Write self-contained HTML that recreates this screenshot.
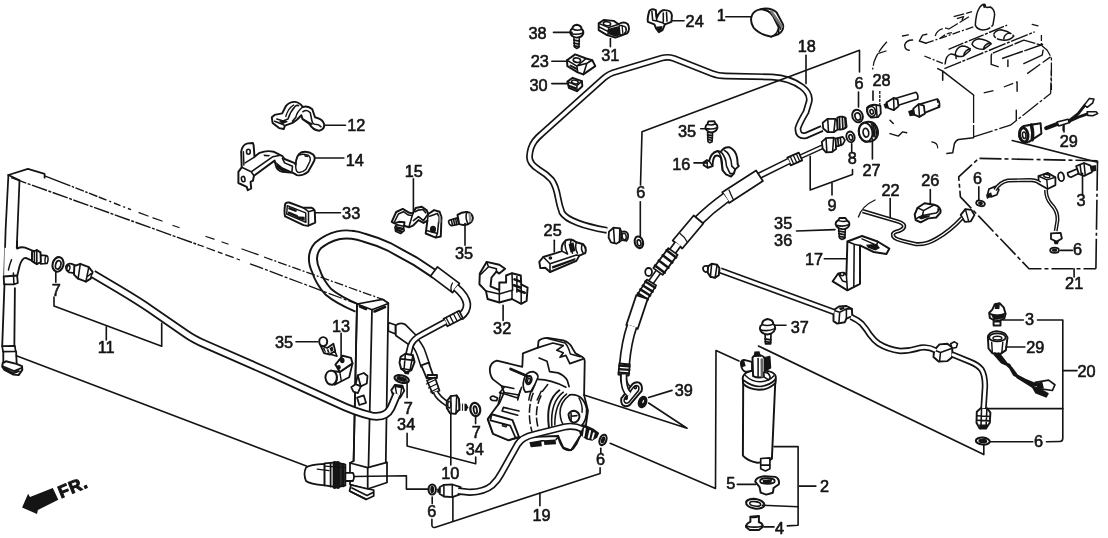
<!DOCTYPE html>
<html><head><meta charset="utf-8"><title>A/C Hoses - Pipes</title>
<style>html,body{margin:0;padding:0;background:#fff}svg{display:block;filter:grayscale(1) blur(0.4px)}</style></head>
<body><svg width="1108" height="538" viewBox="0 0 1108 538" fill="none" stroke="#141414" stroke-linecap="round" stroke-linejoin="round" font-family="'Liberation Sans', sans-serif">
<rect x="0" y="0" width="1108" height="538" fill="#fff" stroke="none"/>
<g>
<path d="M357.0 308.0Q338.0 300.0 328.3 291.8Q319.5 282.0 316.0 271.0Q309.0 256.0 318.0 245.5Q327.0 238.0 338.0 235.3Q345.0 233.8 352.0 234.8Q358.0 235.5 364.0 237.6Q378.0 241.5 389.4 247.0L400.0 252.8L415.0 261.1L435.0 274.3" stroke-width="9.95" stroke-linecap="butt"/>
<path d="M357.0 308.0Q338.0 300.0 328.3 291.8Q319.5 282.0 316.0 271.0Q309.0 256.0 318.0 245.5Q327.0 238.0 338.0 235.3Q345.0 233.8 352.0 234.8Q358.0 235.5 364.0 237.6Q378.0 241.5 389.4 247.0L400.0 252.8L415.0 261.1L435.0 274.3" stroke-width="6.05" stroke="#fff" stroke-linecap="butt"/>
<path d="M430.6 276.1 L452.6 292.6 L459.4 283.4 L437.4 266.9Z" fill="#fff" stroke-width="1.76"/>
<path d="M452.5 283.0Q450.0 287.0 451.5 292.0" stroke-width="1.3"/>
<path d="M456.0 287.5Q466.0 296.0 467.0 304.0Q467.5 311.0 460.0 317.0" stroke-width="8.59" stroke-linecap="butt"/>
<path d="M456.0 287.5Q466.0 296.0 467.0 304.0Q467.5 311.0 460.0 317.0" stroke-width="5.21" stroke="#fff" stroke-linecap="butt"/>
<path d="M459.1 310.7 L443.6 318.7 L447.4 326.3 L462.9 318.3Z" fill="#fff" stroke-width="1.76"/>
<path d="M457.0 311.7L461.0 319.3M453.4 313.7L457.3 321.2M449.7 315.6L453.6 323.1M446.0 317.5L450.0 325.1" stroke-width="1.3"/>
<path d="M411.0 338.0Q419.0 346.0 421.5 354.0L425.5 366.0" stroke-width="10.36" stroke-linecap="butt"/>
<path d="M411.0 338.0Q419.0 346.0 421.5 354.0L425.5 366.0" stroke-width="7.24" stroke="#fff" stroke-linecap="butt"/>
<path d="M388.3 322.5L395.5 325.0L395.5 334.0L388.3 331.0Z" fill="#fff" stroke-width="1.76"/>
<path d="M395.8 325.4Q400.0 322.0 405.4 324.6L415.8 335.0Q417.0 341.0 409.9 345.4L395.8 335.5Z" fill="#fff" stroke-width="1.76"/>
<path d="M421.3 365.4 L426.7 378.3 L433.3 375.7 L428.7 362.6Z" fill="#fff" stroke-width="1.76"/>
<path d="M427.5 378.0 L437.0 378.0 L437.0 375.0 L427.5 375.0Z" fill="#fff" stroke-width="1.76"/>
<path d="M427.0 380.5 L432.5 393.3 L439.5 390.7 L435.0 377.5Z" fill="#fff" stroke-width="1.76"/>
<path d="M426.5 384.0L434.5 380.0M428.5 388.0L436.5 384.0M430.5 392.0L438.5 388.0" stroke-width="1.3"/>
<path d="M435.5 392.0Q438.0 398.0 447.5 404.0" stroke-width="5.96" stroke-linecap="butt"/>
<path d="M435.5 392.0Q438.0 398.0 447.5 404.0" stroke-width="2.84" stroke="#fff" stroke-linecap="butt"/>
<path d="M445.6 321.8L422.0 334.5Q413.0 339.0 410.5 346.0L408.3 355.0" stroke-width="6.79" stroke-linecap="butt"/>
<path d="M445.6 321.8L422.0 334.5Q413.0 339.0 410.5 346.0L408.3 355.0" stroke-width="3.41" stroke="#fff" stroke-linecap="butt"/>
<path d="M822.5 146.8L800.0 157.0" stroke-width="4.93" stroke-linecap="butt"/>
<path d="M822.5 146.8L800.0 157.0" stroke-width="2.07" stroke="#fff" stroke-linecap="butt"/>
<path d="M798.8 152.6 L787.3 157.6 L790.7 165.4 L802.2 160.4Z" fill="#fff" stroke-width="1.76"/>
<path d="M796.2 153.6L799.8 161.4M793.2 155.0L796.8 162.8M790.2 156.4L793.8 164.2" stroke-width="1.3"/>
<path d="M789.0 161.0L759.5 175.6" stroke-width="6.96" stroke-linecap="butt"/>
<path d="M789.0 161.0L759.5 175.6" stroke-width="3.84" stroke="#fff" stroke-linecap="butt"/>
<path d="M756.1 170.5 L722.3 192.3 L729.1 202.9 L762.9 181.1Z" fill="#fff" stroke-width="1.76"/>
<path d="M729.0 190.0Q731.0 195.0 733.5 200.0" stroke-width="1.3"/>
<path d="M726.0 197.5Q710.0 209.0 697.0 222.0" stroke-width="11.39" stroke-linecap="butt"/>
<path d="M726.0 197.5Q710.0 209.0 697.0 222.0" stroke-width="8.01" stroke="#fff" stroke-linecap="butt"/>
<path d="M693.7 215.5 L672.7 240.5 L682.3 248.5 L703.3 223.5Z" fill="#fff" stroke-width="1.76"/>
<path d="M680.0 233.5Q685.0 237.0 687.5 242.5" stroke-width="1.3"/>
<path d="M678.0 244.0L671.0 253.5" stroke-width="8.79" stroke-linecap="butt"/>
<path d="M678.0 244.0L671.0 253.5" stroke-width="5.41" stroke="#fff" stroke-linecap="butt"/>
<path d="M660.0 269.5L649.0 285.0" stroke-width="6.84" stroke-linecap="butt"/>
<path d="M660.0 269.5L649.0 285.0" stroke-width="3.85" stroke="#fff" stroke-linecap="butt"/>
<ellipse cx="648.6" cy="272.0" rx="3.4" ry="4.0" fill="#fff" stroke-width="1.76"/>
<path d="M668.4 248.1 L653.4 268.1 L662.6 274.9 L677.6 254.9Z" fill="#fff" stroke-width="1.76"/>
<path d="M666.5 250.2L676.1 257.4M662.7 255.3L672.3 262.5M658.8 260.5L668.4 267.7M655.0 265.6L664.6 272.8" stroke-width="2.47"/>
<path d="M646.8 279.6 L636.8 295.6 L646.2 301.4 L656.2 285.4Z" fill="#fff" stroke-width="1.76"/>
<path d="M645.3 281.5L655.1 287.7M642.9 285.5L652.6 291.6M640.4 289.4L650.1 295.5M637.9 293.3L647.7 299.5" stroke-width="2.47"/>
<path d="M636.3 295.1 L626.3 325.1 L637.7 328.9 L647.7 298.9Z" fill="#fff" stroke-width="1.76"/>
<path d="M632.0 326.0Q626.5 342.0 624.5 364.0" stroke-width="11.39" stroke-linecap="butt"/>
<path d="M632.0 326.0Q626.5 342.0 624.5 364.0" stroke-width="8.01" stroke="#fff" stroke-linecap="butt"/>
<path d="M619.4 363.5 L618.4 374.5 L628.8 375.5 L629.8 364.5Z" fill="#fff" stroke-width="1.76"/>
<path d="M619.2 365.6L629.6 366.4M618.9 369.1L629.4 369.9M618.7 372.6L629.1 373.4" stroke-width="2.08"/>
<path d="M623.5 375.0Q623.0 384.0 628.0 388.5" stroke-width="7.36" stroke-linecap="butt"/>
<path d="M623.5 375.0Q623.0 384.0 628.0 388.5" stroke-width="4.24" stroke="#fff" stroke-linecap="butt"/>
<path d="M8.4 175.0L27.9 168.9L44.6 173.9L44.6 177.7" stroke-width="1.76"/>
<path d="M8.4 175.0L19.5 180.4" stroke-width="1.76"/>
<path d="M8.4 175.0L5.6 230.0L4.2 276.0" stroke-width="1.76"/>
<path d="M19.5 180.4L16.7 249.0" stroke-width="1.76"/>
<path d="M44.6 175.8L62.0 182.6" stroke-width="1.43"/>
<path d="M62.0 182.6L100.0 197.5" stroke-width="1.43" stroke-dasharray="9 1.5 2.5 1.5" stroke-linecap="butt"/>
<path d="M100.0 197.5L131.0 209.7" stroke-width="1.43" stroke-dasharray="7 3 2 3" stroke-linecap="butt"/>
<path d="M139.0 212.7L148.0 216.0M153.0 217.8L162.0 221.0" stroke-width="1.3"/>
<path d="M173.0 225.5L179.0 227.5" stroke-width="1.3"/>
<path d="M206.0 236.5L214.0 239.2" stroke-width="1.3"/>
<path d="M222.0 242.0L228.0 244.0" stroke-width="1.3"/>
<path d="M242.0 249.0L258.0 254.7" stroke-width="1.3"/>
<path d="M264.0 257.0L384.5 300.0" stroke-width="1.3" stroke-dasharray="9 2 2 2" stroke-linecap="butt"/>
<path d="M11.2 177.7L199.0 245.0" stroke-width="1.43" stroke-dasharray="16 1.5 3 1.5" stroke-linecap="butt"/>
<path d="M199.0 245.0L240.0 260.0" stroke-width="1.3" stroke-dasharray="5 3 9 3" stroke-linecap="butt"/>
<path d="M250.0 263.8L357.0 304.0" stroke-width="1.3" stroke-dasharray="14 2 3 2" stroke-linecap="butt"/>
<path d="M16.4 355.8L307.0 466.3" stroke-width="1.56"/>
<path d="M357.0 304.0L382.4 299.3L388.3 303.0L385.8 461.5L387.0 463.0L387.0 482.5L367.7 489.0L350.0 484.5L350.0 463.0L353.6 461.0Z" fill="#fff" stroke-width="1.76"/>
<path d="M357.0 304.0L372.0 309.7L388.3 303.5" stroke-width="1.76"/>
<path d="M372.0 309.7L368.5 466.0" stroke-width="1.76"/>
<path d="M357.0 304.0L353.6 461.0" stroke-width="1.76"/>
<path d="M350.0 463.0L367.7 467.6L387.0 462.4" stroke-width="1.76"/>
<path d="M367.7 467.6L367.7 489.0" stroke-width="1.76"/>
<path d="M360.0 306.5L366.0 309.0M374.5 311.5L385.0 307.0" stroke-width="2.6"/>
<path d="M351.0 485.0L349.5 491.0L366.0 499.5L373.7 496.0L373.7 490.0L367.7 489.0Z" fill="#fff" stroke-width="1.76"/>
<path d="M352.0 488.0L367.0 495.5L373.0 492.5M350.5 491.5L366.0 499.0" stroke-width="1.76"/>
<path d="M357.8 375.3L363.8 373.0L367.5 376.0L366.8 383.5L360.8 386.4L355.6 384.2Z" fill="#fff" stroke-width="1.76"/>
<path d="M351.2 387.2L355.6 384.2L360.8 386.4L357.8 393.1L353.4 391.6Z" fill="#fff" stroke-width="1.76"/>
<path d="M357.8 375.3L360.8 386.4" stroke-width="1.76"/>
<path d="M357.1 397.6L363.8 395.4L366.0 402.8L359.3 405.0Z" fill="#fff" stroke-width="1.76"/>
<path d="M324.6 463.9Q309.7 464.6 306.0 467.6Q303.0 473.5 306.0 481.0Q309.7 483.9 324.6 485.4Z" fill="#fff" stroke-width="1.76"/>
<path d="M324.6 463.4L336.5 462.4L345.4 464.6L345.4 485.4L336.5 487.2L324.6 485.4Z" fill="#fff" stroke-width="1.76"/>
<path d="M330.6 463.1L330.6 486.5M341.0 463.9L341.0 486.5" stroke-width="1.76"/>
<path d="M334.7 463.1L334.7 486.9M338.0 463.1L338.0 486.9" stroke-width="4.16"/>
<path d="M343.2 464.6L343.2 485.7" stroke-width="3.12"/>
<path d="M324.6 466.1L345.4 467.6M317.2 469.1L329.1 470.6" stroke-width="1.3"/>
<path d="M345.4 472.8L352.9 472.8Q355.1 476.5 352.9 481.0L345.4 481.0Z" fill="#fff" stroke-width="1.76"/>
<path d="M4.6 247.7L17.1 248.6Q21.4 246.4 25.1 247.7L33.1 250.8L33.1 261.2L25.7 257.9Q21.9 257.9 19.5 266.2L17.1 276.5L4.1 276.5Z" fill="#fff" stroke="none"/>
<path d="M17.1 241.2L17.1 248.6Q21.4 246.4 25.1 247.7L33.1 250.8M33.1 261.2L25.7 257.9Q21.9 257.9 19.5 266.2L17.1 276.5" stroke-width="1.82"/>
<path d="M8.4 270.0Q9.3 265.3 11.5 259.7" stroke-width="1.43"/>
<path d="M3.7 276.5L17.1 275.5L17.8 283.0L13.9 284.3L4.1 284.3Z" fill="#fff" stroke-width="1.82"/>
<path d="M13.4 273.1L13.9 284.3" stroke-width="1.56"/>
<path d="M40.0 255.1L46.5 255.7Q48.3 259.4 46.8 263.5L40.5 263.8Z" fill="#fff" stroke-width="1.69"/>
<ellipse cx="46.5" cy="259.7" rx="1.5" ry="3.7" fill="#fff" stroke-width="1.43" transform="rotate(5 46.5 259.7)"/>
<path d="M32.0 251.9L36.8 250.1L40.5 252.3L40.9 262.0L36.8 264.2L32.0 261.2Z" fill="#fff" stroke-width="1.95"/>
<path d="M36.8 250.1L36.8 264.2M34.4 251.0L34.4 262.7" stroke-width="1.56"/>
<ellipse cx="58.0" cy="264.4" rx="5.4" ry="7.4" fill="#fff" stroke-width="2.08" transform="rotate(15 58.0 264.4)"/>
<ellipse cx="58.2" cy="264.9" rx="2.6" ry="4.3" fill="#fff" stroke-width="1.69" transform="rotate(15 58.2 264.9)"/>
<path d="M66.0 266.2Q67.8 263.1 71.6 263.8L75.3 265.3L74.3 273.1L69.1 272.4Q65.4 270.5 66.0 266.2Z" fill="#fff" stroke-width="1.82"/>
<ellipse cx="68.4" cy="268.1" rx="1.5" ry="2.6" fill="#fff" stroke-width="1.43" transform="rotate(10 68.4 268.1)"/>
<path d="M74.3 266.2L80.3 263.8L88.8 267.2L92.6 271.8L90.7 278.7L85.9 281.7L78.1 278.7L74.0 274.6Z" fill="#fff" stroke-width="1.95"/>
<path d="M80.3 263.8L78.1 278.7M88.8 267.2L85.9 281.7M91.1 273.7L87.4 276.5" stroke-width="1.56"/>
<path d="M4.5 283.6L2.2 346.1M14.9 288.1L14.3 350.3" stroke-width="1.82"/>
<path d="M2.2 346.1L14.9 345.8L15.6 351.3L3.0 351.7Z" fill="#fff" stroke-width="1.69"/>
<path d="M3.3 351.7L3.3 362.5M16.1 351.3L16.7 363.9" stroke-width="1.82"/>
<path d="M2.7 363.2L5.9 361.3L16.4 363.9L22.0 366.2L22.3 369.9L18.6 375.1L13.4 374.6L4.5 369.9L2.2 366.6Z" fill="#fff" stroke-width="1.95"/>
<path d="M2.7 366.2L14.1 371.1L22.0 367.7M4.5 368.7L13.7 373.2L19.0 371.1" stroke-width="1.69"/>
<path d="M22.1 507.6L28.1 493.7L30.0 497.0L52.8 488.1L58.3 499.7L37.9 510.0L37.0 514.1Z" fill="#141414" stroke="none"/>
<path d="M271.8 117.3L274.6 114.9L282.2 113.4L285.8 106.2Q289.1 101.7 295.2 101.9Q300.3 102.8 302.7 107.0Q308.1 105.3 312.3 109.3L315.0 117.3Q322.6 119.0 324.2 124.2Q324.8 129.6 319.2 130.7Q312.5 129.8 309.7 124.2L302.5 119.0L301.4 115.3L296.9 119.8L292.5 122.9L284.9 125.7L283.8 129.0L279.1 128.1L272.6 122.9Z" fill="#fff" stroke-width="1.95"/>
<path d="M274.6 121.2L282.4 124.2L284.6 125.7M282.4 124.2L283.3 120.9L276.8 119.0M283.3 120.9L288.0 119.0Q290.2 111.7 295.2 106.2Q296.9 105.0 298.6 105.6" stroke-width="1.56"/>
<path d="M285.8 116.4Q288.0 108.4 293.6 105.0" stroke-width="1.43"/>
<path d="M302.7 107.0Q296.9 111.7 295.8 117.3L292.5 121.2" stroke-width="1.56"/>
<path d="M303.0 111.7Q306.9 108.9 310.3 112.8L312.0 121.2Q312.5 124.0 314.8 124.2Q319.2 124.2 320.9 126.8" stroke-width="1.56"/>
<path d="M302.5 119.0L312.0 124.2" stroke-width="1.56"/>
<path d="M279.1 121.2L284.6 119.8L288.0 121.8L282.4 124.2Z" fill="#141414" stroke="none"/>
<path d="M238.4 171.8L241.7 167.3L241.2 151.7Q242.3 144.5 247.8 143.4L252.9 143.0L253.6 145.0L254.5 156.7L259.6 152.8Q266.8 150.1 273.5 151.7L282.4 156.2L284.6 159.0L294.1 162.9L295.8 164.6Q295.8 155.1 301.4 152.3Q308.1 150.6 313.1 154.5Q316.4 157.9 313.1 162.9L308.1 171.8Q302.5 176.3 296.9 175.1L293.0 172.9L282.4 171.8Q276.8 170.7 275.7 165.1L274.6 160.6L254.0 175.7L252.9 180.7L250.6 181.8L251.2 188.5L247.8 190.2L246.7 186.9L238.4 183.0Z" fill="#fff" stroke-width="1.95"/>
<path d="M241.7 167.3L251.2 171.8L254.0 175.7M251.2 171.8L272.9 156.7L279.1 155.6" stroke-width="1.56"/>
<path d="M245.1 162.9L254.0 157.3L254.5 156.7" stroke-width="1.43"/>
<path d="M243.4 151.7L243.9 165.1" stroke-width="1.43"/>
<ellipse cx="248.4" cy="151.7" rx="1.9" ry="2.5" fill="#fff" stroke-width="1.56"/>
<ellipse cx="243.2" cy="179.1" rx="1.8" ry="2.7" fill="#fff" stroke-width="1.56" transform="rotate(-10 243.2 179.1)"/>
<path d="M263.5 154.5L270.1 154.9L269.0 156.4L264.0 156.2Z" fill="#141414" stroke="none"/>
<path d="M275.7 161.8L282.4 167.3L290.2 170.7L292.5 172.4L282.4 171.2L277.4 168.5Z" fill="#141414" stroke="none"/>
<path d="M282.4 158.4L284.6 162.9L292.5 166.2L291.9 171.8" stroke-width="1.56"/>
<path d="M299.1 155.1Q302.5 153.4 308.1 155.1Q311.4 157.3 309.7 161.8L305.8 169.6Q302.5 172.9 298.0 172.4Q295.2 170.7 295.8 164.6" stroke-width="1.43"/>
<path d="M304.2 155.1L308.6 155.6L308.1 157.3L304.7 156.7Z" fill="#141414" stroke="none"/>
<path d="M285.1 204.5Q285.6 202.0 289.2 202.5L303.5 207.8L311.8 207.8Q314.6 209.0 314.8 211.7L315.2 222.6L307.9 225.9L303.5 225.1L285.1 216.4Q283.9 212.3 285.1 204.5Z" fill="#fff" stroke-width="1.95"/>
<path d="M308.5 211.7L308.5 225.5M303.5 207.8L308.5 211.7L314.6 210.1" stroke-width="1.56"/>
<path d="M287.3 205.6L305.7 212.9L305.9 222.3L286.7 214.0Z" stroke-width="1.43"/>
<path d="M289.5 208.4L295.6 210.6M289.0 212.9L296.8 216.2" stroke-width="2.6"/>
<path d="M296.2 216.2L304.6 216.8L304.8 220.7L296.8 218.4Z" fill="#141414" stroke="none"/>
<path d="M391.7 221.8L396.2 212.0L402.8 208.9L409.3 212.8L412.9 213.4L415.7 208.0L421.8 206.7L426.8 210.4L428.3 214.0L434.1 210.1L439.6 211.7L441.5 217.3L440.8 236.5L435.7 237.6L425.7 233.5L427.4 220.6L423.5 222.9L418.5 220.1L412.9 225.7L409.0 227.3L404.0 225.7L404.5 222.3L398.9 221.8L394.5 223.4Z" fill="#fff" stroke-width="1.95"/>
<path d="M394.5 221.8L398.4 214.0L403.4 211.7L408.4 215.1L411.8 215.6M412.9 213.4L411.2 219.0L409.0 226.8" stroke-width="1.56"/>
<path d="M415.1 211.7L418.5 210.1L422.9 209.5L425.7 212.8M413.4 220.6L418.5 216.7L423.5 220.6L427.9 214.2" stroke-width="1.69"/>
<path d="M428.3 214.0L427.4 220.6M429.6 216.2L437.4 213.4L439.1 217.3L437.4 233.5L435.7 237.4M437.4 233.5L427.4 230.7" stroke-width="1.56"/>
<path d="M439.6 217.3L439.9 221.8" stroke-width="2.86" stroke="#888"/>
<ellipse cx="433.0" cy="229.3" rx="2.2" ry="2.7" fill="#141414" stroke-width="1.76"/>
<path d="M396.2 224.6L403.4 226.2L404.2 230.7L400.6 233.5L395.6 231.2L395.0 227.3Z" fill="#fff" stroke-width="1.69"/>
<path d="M396.7 227.3L402.8 229.0M396.2 229.6L401.7 231.6" stroke-width="2.34"/>
<path d="M448.6 221.2Q449.1 219.8 450.8 219.8L457.5 217.9L458.6 224.2L451.9 225.7Q448.8 225.1 448.6 221.2Z" fill="#fff" stroke-width="1.69"/>
<path d="M451.4 220.1L452.5 225.1M453.6 219.5L454.7 224.9M455.8 219.0L456.6 224.6" stroke-width="1.56"/>
<path d="M457.5 214.9Q461.9 211.7 467.0 212.0Q472.0 212.8 472.9 217.9Q472.5 222.3 468.1 224.2Q463.1 225.7 459.2 224.2Z" fill="#fff" stroke-width="1.95"/>
<path d="M467.0 212.0Q464.7 217.3 468.1 224.2" stroke-width="1.56"/>
<path d="M469.8 214.5L470.3 220.6" stroke-width="2.6" stroke="#999"/>
<path d="M573.9 36.8L579.4 36.8L578.9 47.2L576.6 48.5L574.4 46.8Z" fill="#fff" stroke-width="1.56"/>
<path d="M573.9 40.1L579.4 41.1M573.9 43.1L579.2 44.1M574.2 45.8L578.9 46.7" stroke-width="1.69"/>
<path d="M570.2 32.6Q570.2 29.7 572.2 28.7Q572.7 25.1 576.9 24.7Q581.6 25.4 581.6 29.2Q583.6 30.4 583.3 33.4Q581.9 37.6 576.6 37.6Q571.0 36.8 570.2 32.6Z" fill="#fff" stroke-width="1.95"/>
<path d="M572.2 28.7Q576.9 31.4 581.6 29.2M571.0 33.4Q576.9 35.4 582.8 33.1" stroke-width="1.56"/>
<path d="M566.9 60.2L575.2 54.4L586.1 58.5L592.3 60.2L595.3 66.1L583.3 74.4L577.7 72.3L567.4 66.1Z" fill="#fff" stroke-width="1.95"/>
<path d="M566.9 60.2L576.9 66.1L586.1 58.5M576.9 66.1L577.7 72.3M576.9 66.1L586.9 63.2L592.3 60.2M586.9 63.2L583.3 74.4" stroke-width="1.56"/>
<ellipse cx="576.9" cy="60.2" rx="3.7" ry="2.2" fill="#fff" stroke-width="1.69" transform="rotate(10 576.9 60.2)"/>
<path d="M570.2 64.4L576.9 67.7L576.9 70.3L569.4 66.1Z" fill="#141414" stroke="none"/>
<path d="M567.4 81.6L572.7 77.8L581.9 81.1L582.3 86.2L576.9 91.2L568.9 87.8Z" fill="#fff" stroke-width="1.95"/>
<path d="M567.4 81.6L576.9 85.6L581.9 81.1M576.9 85.6L576.9 91.2" stroke-width="1.56"/>
<ellipse cx="574.9" cy="82.0" rx="3.3" ry="1.8" fill="#fff" stroke-width="1.56" transform="rotate(10 574.9 82.0)"/>
<path d="M568.5 84.5L576.1 87.3L576.1 90.0L569.0 87.0Z" fill="#141414" stroke="none"/>
<path d="M598.7 23.4L603.7 20.0L613.7 20.9L618.7 24.2Q623.8 20.9 627.9 24.2Q630.5 29.2 627.1 33.4L620.4 35.9L615.4 37.6L607.0 35.1L598.7 30.1Z" fill="#fff" stroke-width="1.95"/>
<path d="M598.7 23.4L608.7 27.6L618.7 24.2M608.7 27.6L607.9 35.1M598.7 26.7L607.9 31.4" stroke-width="1.56"/>
<ellipse cx="607.0" cy="23.7" rx="3.7" ry="2.0" fill="#fff" stroke-width="1.56" transform="rotate(8 607.0 23.7)"/>
<path d="M608.7 28.7L618.7 25.9L620.4 35.1L615.4 36.8L608.7 34.3Z" fill="#141414" stroke="none"/>
<path d="M620.4 26.7Q623.8 25.1 625.8 27.6Q627.1 30.9 624.6 33.4" stroke-width="1.56"/>
<path d="M619.1 25.9L622.1 25.4L622.9 34.3L620.1 35.1Z" fill="#fff" stroke-width="1.3"/>
<path d="M649.5 10.6Q651.9 8.1 655.7 10.1L656.8 17.9Q660.1 9.7 664.9 10.1Q671.4 10.1 671.9 15.4L671.4 21.9L664.9 24.4L662.5 30.1L658.9 32.2L656.0 28.4L654.4 24.4L647.9 21.9Q647.1 17.9 649.5 10.6Z" fill="#fff" stroke-width="1.95"/>
<path d="M651.9 11.4L652.7 20.3L656.8 21.1M655.7 10.1L656.8 21.1L662.5 22.7L664.9 24.4M663.3 13.0L663.3 21.9M666.5 12.2L667.0 21.1" stroke-width="1.56"/>
<path d="M656.0 26.8L662.5 26.0L661.7 30.1L658.9 31.7Z" fill="#141414" stroke="none"/>
<path d="M760.0 9.4Q769.7 6.8 776.5 12.2L783.0 24.4Q784.3 30.9 778.1 34.4L771.3 36.7Q760.0 34.9 753.5 27.6Q750.5 22.7 751.2 17.9Q752.2 11.0 760.0 9.4Z" fill="#fff" stroke-width="1.95"/>
<path d="M760.0 9.4Q768.1 8.9 772.9 16.2L778.6 27.6Q779.1 32.5 778.1 34.4M771.3 36.7Q777.0 34.9 778.6 27.6" stroke-width="1.56"/>
<path d="M766.5 10.1Q772.9 13.0 776.2 19.5L780.7 29.2M764.0 9.7L768.1 11.4" stroke-width="1.56"/>
<path d="M771.3 11.4L781.9 26.8" stroke-width="2.6" stroke="#777"/>
<path d="M822.7 122.7L827.7 118.8L835.2 118.8L837.2 121.0L837.7 129.4L833.6 132.2L827.7 132.2L823.2 128.5Z" fill="#fff" stroke-width="1.82"/>
<path d="M827.7 118.8L828.5 132.2M835.2 118.8L833.9 132.2" stroke-width="1.56"/>
<path d="M837.2 117.7Q841.1 115.5 845.6 117.7L846.6 126.9Q843.6 130.2 837.7 129.4Z" fill="#fff" stroke-width="1.82"/>
<path d="M839.4 117.2L839.9 129.5M842.3 116.5L842.9 129.2M844.9 117.7L845.6 127.7" stroke-width="1.69"/>
<path d="M821.8 141.9L826.0 138.2L833.6 137.7L835.6 138.9L836.1 149.0L831.9 152.0L826.0 152.3L822.7 148.6Z" fill="#fff" stroke-width="1.82"/>
<path d="M826.0 138.2L826.9 152.3M833.6 137.7L832.6 151.6" stroke-width="1.56"/>
<path d="M835.6 138.6L842.8 136.9L844.9 140.3L842.8 144.4L836.1 146.6Z" fill="#fff" stroke-width="1.69"/>
<path d="M837.7 138.2L838.6 146.1M840.3 137.6L841.1 145.3" stroke-width="1.69"/>
<ellipse cx="857.5" cy="116.0" rx="5.2" ry="6.4" fill="#fff" stroke-width="1.95" transform="rotate(-20 857.5 116.0)"/>
<ellipse cx="857.8" cy="116.5" rx="2.7" ry="3.7" fill="#fff" stroke-width="1.69" transform="rotate(-20 857.8 116.5)"/>
<ellipse cx="850.5" cy="136.9" rx="4.0" ry="5.4" fill="#fff" stroke-width="1.95" transform="rotate(-15 850.5 136.9)"/>
<ellipse cx="850.8" cy="137.4" rx="1.8" ry="2.8" fill="#fff" stroke-width="1.69" transform="rotate(-15 850.8 137.4)"/>
<path d="M867.0 107.6Q870.4 104.3 876.2 104.8L880.4 105.9L880.8 113.5L877.9 117.2L871.2 117.7Q866.2 114.3 867.0 107.6Z" fill="#fff" stroke-width="1.82"/>
<ellipse cx="871.5" cy="111.5" rx="4.0" ry="5.0" fill="#fff" stroke-width="1.69" transform="rotate(-15 871.5 111.5)"/>
<ellipse cx="871.7" cy="111.8" rx="1.7" ry="2.3" fill="#fff" stroke-width="1.56" transform="rotate(-15 871.7 111.8)"/>
<path d="M876.2 105.1L877.1 117.2" stroke-width="1.56"/>
<path d="M863.7 122.7Q870.4 120.2 874.6 123.8Q878.7 128.5 877.9 134.4Q876.2 140.3 870.4 141.6L865.4 141.9Q858.7 138.6 858.7 131.0Q859.0 125.2 863.7 122.7Z" fill="#fff" stroke-width="1.95"/>
<ellipse cx="865.7" cy="132.2" rx="6.7" ry="9.4" fill="#fff" stroke-width="1.95" transform="rotate(-10 865.7 132.2)"/>
<ellipse cx="865.9" cy="132.7" rx="2.8" ry="4.4" fill="#fff" stroke-width="1.69" transform="rotate(-10 865.9 132.7)"/>
<path d="M871.2 123.8Q875.7 128.5 874.1 136.9M872.9 123.2Q877.9 129.4 875.7 137.7" stroke-width="1.56"/>
<path d="M871.7 125.2Q875.4 130.2 873.7 136.9L872.4 136.9Q873.7 130.2 870.7 126.0Z" fill="#141414" stroke="none"/>
<path d="M975.3 25.1Q976.1 13.4 978.7 9.2Q981.2 4.2 984.5 4.2L987.0 7.5L990.4 7.0Q994.6 9.2 994.6 15.1L992.9 25.1Q988.7 30.1 982.8 30.1Q977.0 29.3 975.3 25.1Z" stroke-width="1.49" stroke-dasharray="26 1.5" stroke-linecap="butt"/>
<path d="M982.8 5.0L985.7 4.7L986.7 7.5L983.7 8.0Z" fill="#141414" stroke="none"/>
<path d="M912.6 40.1Q905.9 40.1 904.7 45.2Q905.1 50.2 909.2 50.2" stroke-width="1.49"/>
<path d="M902.5 36.0L908.4 34.8" stroke-width="1.3"/>
<path d="M926.8 34.3L922.6 35.1L919.3 41.0L926.0 43.2" stroke-width="1.43"/>
<path d="M935.2 36.0Q936.8 30.1 943.5 28.4Q947.7 27.6 948.5 29.3M948.5 29.3L970.3 15.9M953.6 16.7L972.0 11.7M956.9 18.7L963.6 16.7L961.1 21.7" stroke-width="1.3" stroke-dasharray="11 2" stroke-linecap="butt"/>
<path d="M926.0 43.2L973.6 26.8" stroke-width="1.3" stroke-dasharray="8 2 2 2" stroke-linecap="butt"/>
<path d="M940.2 38.5Q945.2 33.5 951.9 32.6" stroke-width="1.3" stroke-dasharray="6 2" stroke-linecap="butt"/>
<path d="M948.5 49.3L1007.1 25.1" stroke-width="1.43" stroke-dasharray="16 1.5 3 1.5" stroke-linecap="butt"/>
<path d="M944.4 68.6L1034.7 31.8" stroke-width="1.43" stroke-dasharray="18 1.5 3 1.5" stroke-linecap="butt"/>
<path d="M924.3 56.0L945.2 64.4" stroke-width="1.3" stroke-dasharray="7 2 2 2" stroke-linecap="butt"/>
<path d="M945.2 63.6Q946.0 55.2 951.1 53.9Q956.9 54.4 956.1 58.5" stroke-width="1.49"/>
<path d="M955.2 54.4Q956.1 47.7 961.9 46.0Q968.6 46.0 970.3 50.2L963.6 56.0Q956.9 57.7 955.2 54.4M963.6 56.0Q964.4 50.2 970.3 48.8" stroke-width="1.49"/>
<path d="M972.0 44.3Q972.8 40.1 978.7 38.8Q987.9 40.1 991.2 43.8L983.7 49.3Q975.3 49.3 972.0 44.3M983.7 49.3Q983.7 44.3 990.4 42.7" stroke-width="1.49"/>
<path d="M993.7 34.3Q995.4 30.1 1001.2 29.8Q1010.4 31.8 1013.8 36.0Q1009.6 41.0 1002.1 40.1Q994.6 39.3 993.7 34.3M1003.8 39.3Q1003.8 34.3 1009.6 32.6" stroke-width="1.49" stroke-dasharray="20 1.5" stroke-linecap="butt"/>
<path d="M992.0 53.5L991.2 55.2L991.2 64.4L998.7 66.9M992.9 53.2L1023.8 40.1L1041.4 45.2M1002.1 58.5L1043.1 44.3M1007.9 59.4L1007.9 66.9" stroke-width="1.43" stroke-dasharray="22 1.5" stroke-linecap="butt"/>
<path d="M1023.8 63.6L1042.2 55.2L1043.1 50.2" stroke-width="1.43"/>
<path d="M1041.4 45.2L1047.2 50.2L1051.4 57.7L1051.4 90.0" stroke-width="1.3" stroke-dasharray="14 2 3 2" stroke-linecap="butt"/>
<path d="M1027.2 73.6L1050.6 56.9" stroke-width="1.3" stroke-dasharray="16 3" stroke-linecap="butt"/>
<path d="M1032.2 24.3L1038.0 25.9" stroke-width="1.3"/>
<path d="M1041.4 35.1L1041.4 44.3" stroke-width="1.3" stroke-dasharray="6 2" stroke-linecap="butt"/>
<path d="M937.7 68.6L942.7 71.1L942.7 80.3M942.7 71.1L973.6 95.0" stroke-width="1.56"/>
<path d="M983.7 92.8L995.4 90.3M1003.8 87.0L1017.1 82.0" stroke-width="1.3" stroke-dasharray="10 3" stroke-linecap="butt"/>
<path d="M1017.1 82.0L1017.1 91.2" stroke-width="1.43"/>
<path d="M973.6 95.1L973.6 136.9" stroke-width="1.3" stroke-dasharray="28 2" stroke-linecap="butt"/>
<path d="M973.6 136.9L1010.4 125.2L1050.6 93.4L1051.4 70.0" stroke-width="1.3" stroke-dasharray="20 2 3 2" stroke-linecap="butt"/>
<path d="M1016.3 110.1L1016.3 120.2" stroke-width="1.43"/>
<path d="M946.9 153.6L952.7 152.8L954.4 143.6Q956.1 139.9 958.6 139.4L973.6 137.7" stroke-width="1.49"/>
<path d="M931.8 141.9Q937.7 142.8 937.7 147.8" stroke-width="1.17"/>
<path d="M890.0 120.2L893.3 123.5M890.0 133.6L898.4 136.1L902.5 131.9L906.7 132.7" stroke-width="1.43"/>
<path d="M893.6 99.0L916.0 92.3Q918.6 94.5 917.7 99.0L896.9 105.7Z" fill="#fff" stroke-width="1.69"/>
<path d="M886.4 102.4L893.6 97.9L897.6 99.7L898.5 106.4L893.6 110.2L888.0 108.0Z" fill="#fff" stroke-width="1.82"/>
<path d="M883.5 104.2L887.3 102.4L888.6 108.0L885.1 108.6Z" fill="#141414" stroke="none"/>
<path d="M893.6 97.9L894.0 110.2" stroke-width="1.56"/>
<path d="M918.6 104.6L937.2 99.0Q940.1 101.3 939.5 106.9L922.7 113.6Z" fill="#fff" stroke-width="1.69"/>
<path d="M913.3 108.6L918.6 104.2L923.8 105.7L924.9 113.6L919.3 116.9L914.2 114.7Z" fill="#fff" stroke-width="1.82"/>
<path d="M908.1 111.3L913.7 109.1L914.8 115.4L909.7 116.3Z" fill="#141414" stroke="none"/>
<path d="M918.6 104.2L919.5 116.9" stroke-width="1.56"/>
<path d="M937.2 99.0L938.8 108.0" stroke-width="1.43" stroke-dasharray="4 2" stroke-linecap="butt"/>
<path d="M1023.8 126.0L1040.6 123.2L1041.4 133.6L1028.8 141.9Q1020.5 143.3 1019.1 136.1Q1019.1 127.7 1023.8 126.0Z" fill="#fff" stroke-width="1.95"/>
<ellipse cx="1023.8" cy="134.9" rx="4.2" ry="7.0" fill="#fff" stroke-width="2.86" transform="rotate(-8 1023.8 134.9)"/>
<ellipse cx="1024.2" cy="135.2" rx="1.7" ry="3.3" fill="#fff" stroke-width="1.56" transform="rotate(-8 1024.2 135.2)"/>
<path d="M1031.4 124.9Q1033.5 132.7 1032.2 139.9" stroke-width="3.38"/>
<path d="M1027.2 125.5L1037.2 123.9" stroke-width="1.43"/>
<path d="M1046.2 128.1L1058.1 123.6" stroke-width="4.16"/>
<path d="M1057.0 122.1L1068.1 119.2L1069.9 122.5L1058.7 125.9Z" fill="#fff" stroke-width="1.56"/>
<path d="M1069.3 120.7L1078.2 113.6L1084.9 105.1M1069.3 121.2L1080.5 116.3L1088.3 113.6" stroke-width="2.86"/>
<path d="M1084.3 105.1L1089.4 98.4L1093.9 99.0L1092.8 102.8L1087.2 107.3Z" fill="#fff" stroke-width="1.56"/>
<path d="M1087.2 111.8L1096.1 111.8L1097.7 113.6L1092.8 115.8L1087.8 115.4Z" fill="#fff" stroke-width="1.56"/>
<path d="M1063.2 125.9L1063.2 130.4" stroke-width="1.56"/>
<ellipse cx="980.5" cy="203.4" rx="4.4" ry="2.6" fill="#fff" stroke-width="1.82" transform="rotate(15 980.5 203.4)"/>
<ellipse cx="980.5" cy="203.4" rx="1.8" ry="1.0" fill="#141414" stroke-width="1.3" transform="rotate(15 980.5 203.4)"/>
<path d="M989.0 189.0L995.5 186.4L998.9 189.6L996.9 194.8L991.1 196.9L987.7 193.7Z" fill="#fff" stroke-width="1.69"/>
<path d="M985.9 194.8L991.1 192.2L992.2 196.3L987.0 198.9Z" fill="#141414" stroke="none"/>
<path d="M1038.5 176.0L1047.6 172.9L1055.4 177.3L1055.4 185.1L1047.6 189.0L1038.5 183.8Z" fill="#fff" stroke-width="1.82"/>
<path d="M1038.5 176.0L1046.8 179.9L1055.4 177.3M1046.8 179.9L1047.6 189.0" stroke-width="1.43"/>
<ellipse cx="1046.8" cy="176.0" rx="3.1" ry="1.6" fill="#fff" stroke-width="1.43" transform="rotate(10 1046.8 176.0)"/>
<path d="M1051.0 233.3L1060.6 232.8L1061.9 238.5L1056.7 241.6L1051.0 239.0Z" fill="#fff" stroke-width="1.82"/>
<path d="M1053.6 241.1L1058.8 241.1L1058.0 244.2L1054.6 244.2Z" fill="#141414" stroke="none"/>
<ellipse cx="1054.6" cy="250.2" rx="4.4" ry="2.6" fill="#fff" stroke-width="1.82"/>
<ellipse cx="1054.6" cy="250.2" rx="2.1" ry="1.0" fill="#141414" stroke-width="1.3"/>
<ellipse cx="1061.1" cy="176.8" rx="2.9" ry="4.4" fill="#fff" stroke-width="1.82" transform="rotate(-10 1061.1 176.8)"/>
<path d="M1067.6 172.9L1077.5 168.7L1079.6 172.9L1071.0 177.3Q1067.6 176.5 1067.6 172.9Z" fill="#fff" stroke-width="1.69"/>
<path d="M1076.2 166.1L1084.0 163.0L1090.6 165.6L1091.9 172.1L1084.0 176.0L1078.8 173.9Z" fill="#fff" stroke-width="1.82"/>
<path d="M1084.0 163.0L1085.3 175.5M1080.1 165.1L1081.4 174.7" stroke-width="1.56"/>
<path d="M1090.6 166.1L1095.8 165.1L1096.3 170.8L1091.9 171.9Z" fill="#141414" stroke="none"/>
<path d="M838.6 228.2L845.4 228.6L844.8 238.3L842.1 239.5L839.5 238.0Z" fill="#fff" stroke-width="1.56"/>
<path d="M838.6 231.1L845.2 232.1M838.8 233.7L845.2 234.8M839.2 236.4L845.0 237.4" stroke-width="1.69"/>
<path d="M835.6 224.3Q835.6 221.4 838.2 220.4L839.5 218.0L845.4 218.0L847.4 220.8Q849.9 221.9 849.3 225.3Q847.4 229.2 842.1 229.2Q836.6 228.2 835.6 224.3Z" fill="#fff" stroke-width="1.82"/>
<path d="M838.2 220.4Q842.5 222.3 847.4 220.8M836.6 225.3Q842.5 227.2 848.7 224.7" stroke-width="1.56"/>
<path d="M847.4 241.5L862.0 236.0L877.6 241.5L889.3 248.7L886.4 254.0L873.7 252.0L860.0 245.4L860.0 283.8L847.4 290.3L832.7 281.3L838.2 273.5L844.0 272.7L846.4 275.0Z" fill="#fff" stroke-width="1.95"/>
<path d="M854.2 244.2L853.8 286.8M860.0 245.4L854.2 244.2L847.4 241.5M846.4 275.0L847.4 290.3M838.6 274.1L842.5 280.9L846.4 281.9" stroke-width="1.56"/>
<ellipse cx="842.1" cy="274.1" rx="2.0" ry="1.6" fill="#fff" stroke-width="1.56"/>
<path d="M865.9 244.8L876.6 243.8L880.0 248.1L875.3 250.4L867.9 247.7Z" fill="#141414" stroke="none"/>
<path d="M862.0 238.9L875.7 244.8M877.6 241.5L876.6 246.2" stroke-width="1.43"/>
<path d="M917.6 207.7L924.5 203.2L934.2 204.8Q941.1 206.7 940.5 212.6L936.2 217.5L928.4 218.4L920.6 222.3L915.7 220.0L914.7 214.5Z" fill="#fff" stroke-width="1.95"/>
<path d="M917.6 207.7L923.5 210.6L934.2 204.8M923.5 210.6L922.5 215.5L936.2 213.0Q939.1 211.6 938.1 208.7M922.5 215.5L916.7 218.4" stroke-width="1.56"/>
<path d="M917.4 216.9L923.5 215.3L930.3 215.3L929.4 216.9L921.0 219.6Z" fill="#141414" stroke="none"/>
<path d="M707.6 132.1L712.6 132.6L712.1 141.8L709.7 142.8L707.9 141.5Z" fill="#fff" stroke-width="1.56"/>
<path d="M707.6 134.8L712.4 135.6M707.7 137.1L712.4 138.1M707.9 139.5L712.2 140.5" stroke-width="1.69"/>
<path d="M705.4 127.6Q705.4 125.1 707.4 124.3L708.4 121.4L714.3 121.1L715.6 123.8Q717.8 124.8 717.4 128.1Q715.9 132.1 710.9 132.5Q706.1 131.4 705.4 127.6Z" fill="#fff" stroke-width="1.82"/>
<path d="M707.4 124.3Q711.4 125.9 715.6 123.8M706.1 128.4Q711.4 130.1 717.1 127.6" stroke-width="1.56"/>
<path d="M703.7 162.2L706.7 160.2L709.2 161.1Q710.9 152.7 717.6 151.0L720.9 151.9Q723.5 146.8 729.3 147.2Q736.0 150.2 737.2 158.5L737.7 164.4L738.8 166.1L735.2 169.4L733.8 173.6L731.0 176.6L726.0 174.4L722.6 170.3L720.9 157.7Q718.4 154.4 715.1 156.0Q712.6 158.5 712.6 166.1L707.6 167.7L703.7 165.2Z" fill="#fff" stroke-width="1.95"/>
<path d="M720.9 151.9Q726.0 156.9 726.5 166.1L730.1 173.6L733.8 173.6M717.6 151.0Q722.6 155.2 722.6 170.3M724.3 150.2Q731.0 153.5 731.8 166.1L735.2 169.4" stroke-width="1.56"/>
<path d="M706.7 160.2L707.6 167.7M709.2 161.1L712.6 166.1" stroke-width="1.43"/>
<path d="M609.0 231.6L613.5 227.7L619.9 228.3L621.3 231.6L621.3 240.4L616.4 243.7L611.0 242.3L608.6 237.5Z" fill="#fff" stroke-width="1.82"/>
<path d="M613.5 227.7L614.5 243.3M619.9 228.3L619.4 242.3" stroke-width="1.56"/>
<path d="M621.3 232.2Q625.2 230.2 627.8 233.5Q629.1 237.5 626.6 240.8L621.3 240.0Z" fill="#fff" stroke-width="1.69"/>
<ellipse cx="624.2" cy="236.5" rx="2.0" ry="3.3" fill="#fff" stroke-width="1.43" transform="rotate(-10 624.2 236.5)"/>
<ellipse cx="638.9" cy="242.3" rx="4.1" ry="5.9" fill="#fff" stroke-width="2.08" transform="rotate(-15 638.9 242.3)"/>
<ellipse cx="639.1" cy="242.9" rx="1.8" ry="3.1" fill="#fff" stroke-width="1.69" transform="rotate(-15 639.1 242.9)"/>
<path d="M539.3 261.9L543.2 257.0L555.9 253.1L561.8 251.1Q560.8 244.3 565.7 240.4Q571.5 238.0 576.4 242.3L583.2 244.3Q587.1 248.2 585.2 253.1L579.3 255.6L576.4 260.9L550.0 272.0L545.2 267.7L540.3 268.1Z" fill="#fff" stroke-width="1.95"/>
<path d="M543.2 257.0L550.0 263.8L576.4 255.0L579.3 255.6M550.0 263.8L550.0 272.0M561.8 251.1L567.6 254.0M565.7 240.4Q563.7 246.2 567.6 254.0M571.5 239.4Q568.6 246.2 572.5 253.1M576.4 242.3Q574.5 248.2 577.4 253.1M582.3 244.3Q580.3 249.2 583.2 253.1" stroke-width="1.56"/>
<path d="M552.0 266.2L575.4 258.0L575.4 260.3L552.4 268.7Z" fill="#141414" stroke="none"/>
<path d="M568.6 244.3L573.5 242.3L575.4 251.1L570.5 252.5Z" fill="#141414" stroke="none"/>
<ellipse cx="550.4" cy="258.0" rx="1.2" ry="1.0" fill="#141414" stroke-width="1.3"/>
<path d="M486.6 261.9L499.3 264.8L505.1 268.7L499.3 273.6L496.4 271.6L491.5 277.5L490.5 286.3L499.3 290.2L499.3 282.4L506.1 282.4L506.1 275.5L512.0 273.2L520.8 275.5L521.2 284.3L527.6 287.6L526.6 300.9L521.2 303.8L512.0 299.0L499.3 302.5L487.6 299.0L486.0 291.1L479.4 284.3L479.8 273.6Z" fill="#fff" stroke-width="1.95"/>
<path d="M486.6 261.9L488.5 266.7L496.4 268.7L496.4 271.6M488.5 266.7L480.7 274.5M486.0 291.1L499.3 294.1L499.3 290.2M499.3 294.1L499.3 302.5M499.3 294.1L512.0 290.2L512.0 299.0M512.0 273.2L512.6 290.2M516.9 276.5L516.9 292.1M521.2 284.3L521.2 303.8" stroke-width="1.56"/>
<path d="M514.5 279.4L519.8 281.4M513.9 285.3L520.4 287.6M517.8 290.2L524.7 292.7" stroke-width="2.6"/>
<path d="M537.9 347.6L538.5 341.1Q541.2 337.8 547.7 337.8L563.3 340.4Q569.8 342.4 572.4 348.2L575.6 353.4L582.8 357.3Q585.1 358.6 584.7 362.5L584.1 395.1L588.0 410.7L585.4 428.9L578.9 438.0L571.1 450.3L563.3 447.7L558.1 436.0L519.0 437.3L508.6 439.9L493.0 433.4L487.8 419.1L491.7 413.3L499.5 402.9L504.1 392.5L501.5 385.9L493.0 379.4Q489.8 375.5 489.8 369.0Q490.4 362.5 496.9 360.6L522.3 366.8L522.9 353.4Z" fill="#fff" stroke-width="1.82"/>
<path d="M537.9 347.6L552.9 343.0L563.3 345.6L556.8 350.2L563.3 352.8L560.0 357.3L565.9 355.4L569.8 363.6L583.4 358.9" stroke-width="1.69"/>
<path d="M547.7 338.5L565.2 343.0Q568.5 346.9 570.4 354.1L580.2 356.7" stroke-width="1.56"/>
<path d="M539.2 358.0L547.0 361.2L549.6 371.6L558.1 372.9Q564.6 375.5 567.4 380.7L569.1 386.6" stroke-width="1.69"/>
<path d="M510.6 369.0L527.5 376.2" stroke-width="2.86"/>
<path d="M524.2 378.8Q525.5 371.9 533.1 371.6Q538.5 373.6 537.9 377.5L532.0 391.2L525.5 392.2Q521.6 387.2 524.2 378.8Z" stroke-width="1.69"/>
<ellipse cx="528.8" cy="380.1" rx="2.7" ry="4.2" fill="#fff" stroke-width="2.08" transform="rotate(15 528.8 380.1)"/>
<ellipse cx="528.9" cy="380.5" rx="1.3" ry="2.3" fill="#fff" stroke-width="1.43" transform="rotate(15 528.9 380.5)"/>
<path d="M501.5 385.9L513.8 388.5M504.1 392.5L519.0 395.1L521.6 387.2" stroke-width="1.56"/>
<path d="M538.5 379.4Q550.3 379.4 565.9 387.2" stroke-width="1.69"/>
<path d="M534.6 385.3Q530.1 391.2 528.8 400.0M541.2 391.2L537.2 400.0M547.7 384.6L542.5 391.2" stroke-width="1.56"/>
<path d="M519.0 395.1L517.7 400.0" stroke-width="1.56"/>
<path d="M533.3 392.8Q526.2 411.0 532.0 431.8" stroke-width="1.56" stroke-dasharray="9 2.5" stroke-linecap="butt"/>
<path d="M541.2 395.4Q533.3 411.0 538.5 429.2" stroke-width="1.56" stroke-dasharray="9 2.5" stroke-linecap="butt"/>
<path d="M559.4 390.2Q545.1 400.6 549.0 427.9" stroke-width="1.95"/>
<path d="M563.3 392.2Q550.3 401.9 551.8 426.0" stroke-width="1.56"/>
<path d="M566.5 394.1Q554.8 403.2 554.8 424.7" stroke-width="1.56"/>
<path d="M569.8 394.8Q582.8 393.5 586.7 408.4Q587.3 421.4 580.2 426.9" stroke-width="1.82"/>
<path d="M569.8 394.8Q560.0 401.9 560.0 413.0Q560.7 422.7 564.6 426.4" stroke-width="1.56"/>
<path d="M578.9 398.0Q582.8 404.5 582.1 412.3" stroke-width="1.43"/>
<path d="M568.5 414.3Q569.8 411.0 574.3 410.8Q579.5 412.3 579.5 416.9Q578.2 422.1 573.7 422.7Q569.1 421.4 568.5 414.3Z" fill="#fff" stroke-width="1.95"/>
<path d="M571.1 413.0L571.1 420.8M571.1 416.2L576.9 415.6" stroke-width="1.56"/>
<path d="M558.1 435.7Q559.4 443.5 563.3 448.1Q568.5 452.0 573.0 448.8Q577.6 443.5 579.5 437.0" stroke-width="1.82"/>
<path d="M563.3 448.1Q564.6 450.1 567.2 449.4" stroke-width="1.43"/>
<path d="M487.8 419.1L491.7 414.3L512.5 420.1L519.0 437.0L508.6 440.3L493.0 433.8Z" fill="#fff" stroke-width="1.95"/>
<path d="M490.4 420.4L510.2 425.6L515.4 437.3M491.7 414.3L490.4 420.4" stroke-width="1.69"/>
<path d="M502.8 424.3L506.7 425.3L506.0 426.9L502.4 425.9Z" stroke-width="1.43"/>
<path d="M490.4 397.4Q491.7 395.7 494.3 396.4L497.6 398.0L496.7 400.6L492.4 400.4Q490.1 399.6 490.4 397.4Z" fill="#fff" stroke-width="1.69"/>
<path d="M503.4 407.4L519.0 411.0M502.1 411.0L517.7 415.2M503.4 407.4L502.1 411.0" stroke-width="1.69"/>
<path d="M499.5 392.8L504.1 387.6M517.7 398.0L520.3 390.2M498.2 404.5L500.8 392.8L517.7 398.0" stroke-width="1.56"/>
<path d="M529.4 442.2L541.2 440.3L541.8 446.2L530.7 447.2Z" fill="#141414" stroke="none"/>
<path d="M543.8 440.3L555.5 439.4L556.1 444.2L544.4 445.1Z" fill="#141414" stroke="none"/>
<path d="M541.2 440.9L543.8 440.7M558.1 437.0L556.1 439.6" stroke-width="1.56"/>
<path d="M743.2 380.0L742.9 455.6Q747.9 461.2 757.2 462.7Q766.5 462.7 771.9 458.6L775.4 379.0Z" fill="#fff" stroke-width="1.95"/>
<path d="M742.7 378.1Q743.2 370.7 759.4 370.1Q775.4 370.7 775.8 377.2L775.4 383.1Q768.3 389.8 759.0 389.8Q747.9 389.3 743.2 383.7Z" fill="#fff" stroke-width="1.95"/>
<path d="M743.2 380.0Q751.6 386.5 760.0 386.5Q770.2 385.5 775.4 379.4" stroke-width="1.69"/>
<path d="M745.1 375.3Q751.6 381.8 760.0 381.8Q769.3 381.3 773.9 375.7" stroke-width="1.43"/>
<path d="M764.6 357.7L769.8 356.4L770.6 367.9L765.5 370.7Z" fill="#141414" stroke-width="1.3"/>
<path d="M740.8 363.2Q741.4 359.5 745.1 360.1L752.0 361.9L752.0 370.7L746.0 372.0Q741.4 370.7 740.8 363.2Z" fill="#fff" stroke-width="1.82"/>
<path d="M740.1 361.9L744.2 360.4L745.7 366.0L741.4 367.5Z" fill="#141414" stroke="none"/>
<path d="M752.5 357.7Q753.5 354.9 758.7 354.9Q764.2 355.8 764.6 358.6L764.6 376.2Q759.0 379.0 753.1 376.2Z" fill="#fff" stroke-width="1.95"/>
<path d="M754.4 351.5L759.4 351.2L761.3 356.7L753.5 357.1Z" fill="#141414" stroke="none"/>
<path d="M758.1 358.6L758.1 377.2" stroke-width="1.56"/>
<path d="M761.8 359.5L762.0 376.2" stroke-width="2.6" stroke="#666"/>
<path d="M763.7 372.5Q768.7 371.6 770.2 377.2L768.7 380.0L764.2 377.2Z" fill="#fff" stroke-width="1.56"/>
<path d="M760.7 458.5L769.9 457.8L769.9 468.8L765.5 471.0L760.7 468.8Z" fill="#fff" stroke-width="1.69"/>
<path d="M760.7 465.1L769.9 465.1" stroke-width="1.56"/>
<path d="M755.2 481.7Q755.9 476.9 764.4 476.2L775.5 476.9Q779.9 479.1 778.8 484.3L773.6 488.0L772.9 492.7L766.2 494.6L760.7 492.7L759.6 487.2Z" fill="#fff" stroke-width="1.95"/>
<ellipse cx="767.4" cy="481.0" rx="7.4" ry="2.9" fill="#fff" stroke-width="1.69"/>
<path d="M762.6 479.9L772.1 479.1L771.4 482.8L763.3 483.5Z" fill="#141414" stroke="none"/>
<ellipse cx="755.2" cy="503.8" rx="9.2" ry="4.8" fill="#fff" stroke-width="2.08" transform="rotate(8 755.2 503.8)"/>
<ellipse cx="755.2" cy="503.8" rx="5.5" ry="2.2" fill="#fff" stroke-width="1.56" transform="rotate(8 755.2 503.8)"/>
<path d="M750.4 516.7L758.9 515.9L758.9 522.2Q763.3 523.3 762.6 527.0L758.9 529.9L749.7 529.9L746.0 527.0Q746.0 523.3 750.4 521.8Z" fill="#fff" stroke-width="1.95"/>
<path d="M746.0 525.9Q754.5 528.4 762.6 525.9M750.4 516.7Q754.5 518.5 758.9 516.3" stroke-width="1.56"/>
<path d="M765.1 333.9L771.0 334.2L770.6 343.9L765.5 343.9Z" fill="#fff" stroke-width="1.69"/>
<path d="M765.1 339.0L770.9 339.9M765.2 341.6L770.7 342.4" stroke-width="1.82"/>
<path d="M759.9 328.3Q759.9 325.6 762.1 324.5Q762.1 320.1 767.3 319.0Q773.3 319.6 773.3 324.1Q775.5 325.3 775.1 329.0Q773.3 333.9 767.3 334.5Q760.6 333.5 759.9 328.3Z" fill="#fff" stroke-width="1.95"/>
<path d="M762.1 324.5Q767.3 326.8 773.3 324.1M760.6 329.7Q767.3 332.0 774.8 328.6" stroke-width="1.56"/>
<path d="M621.3 398.3L632.5 384.1Q635.4 381.6 639.1 382.6Q642.9 384.9 641.7 390.8L629.8 404.9Q626.5 407.2 623.5 405.7Q620.6 403.5 621.3 398.3Z" fill="#fff" stroke-width="1.95"/>
<path d="M624.3 399.0L633.9 386.7Q636.2 384.9 638.1 386.1Q639.6 387.8 638.4 390.8L628.7 402.4Q626.5 403.9 625.0 402.7Q623.5 401.2 624.3 399.0Z" stroke-width="1.56"/>
<path d="M623.8 374.5Q623.5 383.4 625.3 388.6Q626.5 392.3 629.5 394.5" stroke-width="6.96" stroke-linecap="butt"/>
<path d="M623.8 374.5Q623.5 383.4 625.3 388.6Q626.5 392.3 629.5 394.5" stroke-width="3.84" stroke="#fff" stroke-linecap="butt"/>
<ellipse cx="626.2" cy="398.0" rx="1.2" ry="1.5" fill="#141414" stroke-width="1.3"/>
<ellipse cx="635.4" cy="387.5" rx="1.0" ry="1.2" fill="#fff" stroke-width="1.43"/>
<ellipse cx="642.6" cy="402.0" rx="3.9" ry="5.7" fill="#141414" stroke-width="1.56" transform="rotate(20 642.6 402.0)"/>
<ellipse cx="643.2" cy="401.5" rx="1.3" ry="2.5" fill="#fff" stroke-width="1.3" transform="rotate(20 643.2 401.5)"/>
<path d="M579.2 427.2L584.1 425.3L590.1 428.0L593.8 429.8L598.3 433.2L596.5 437.2L592.3 439.9L586.4 438.7L580.4 433.9Z" fill="#141414" stroke-width="1.56"/>
<path d="M584.9 428.7L583.7 436.2M590.1 431.0L588.6 437.7M593.8 433.2L592.3 438.7" stroke-width="1.82" stroke="#fff"/>
<ellipse cx="603.0" cy="439.9" rx="3.3" ry="5.4" fill="#fff" stroke-width="2.08" transform="rotate(20 603.0 439.9)"/>
<ellipse cx="603.0" cy="439.9" rx="1.3" ry="3.0" fill="#141414" stroke-width="1.3" transform="rotate(20 603.0 439.9)"/>
<path d="M439.6 487.2L443.9 484.8L452.3 484.5L460.6 487.2L461.3 493.8L452.3 497.2L443.9 496.5L439.6 493.8Z" fill="#fff" stroke-width="1.82"/>
<path d="M443.9 484.8L443.9 496.5M452.3 484.5L452.3 497.2" stroke-width="1.56"/>
<path d="M437.2 488.8L440.6 487.8L440.6 493.2L437.2 492.5Z" fill="#141414" stroke="none"/>
<ellipse cx="432.2" cy="489.5" rx="3.7" ry="5.0" fill="#fff" stroke-width="2.08"/>
<ellipse cx="432.2" cy="489.5" rx="1.3" ry="3.0" fill="#141414" stroke-width="1.3"/>
<path d="M391.3 390.1L395.0 384.9L402.5 385.7L404.2 390.9L400.2 397.6L393.5 396.4Z" fill="#fff" stroke-width="1.82"/>
<path d="M396.2 384.5L402.8 385.7L402.5 388.4L395.9 387.2Z" fill="#141414" stroke="none"/>
<path d="M395.0 384.9L397.2 397.3M400.2 397.6L401.7 387.2" stroke-width="1.43"/>
<ellipse cx="401.7" cy="379.0" rx="7.4" ry="3.6" fill="#fff" stroke-width="2.08" transform="rotate(15 401.7 379.0)"/>
<ellipse cx="401.7" cy="379.0" rx="4.8" ry="1.8" fill="#141414" stroke-width="1.3" transform="rotate(15 401.7 379.0)"/>
<path d="M400.7 356.7L405.4 353.7L412.9 355.2L414.6 361.9L411.4 370.1L406.2 372.3L401.0 368.6L399.5 362.6Z" fill="#fff" stroke-width="1.95"/>
<path d="M405.4 353.7L403.9 370.8M412.9 355.2L409.9 370.8M401.0 368.6L411.4 370.1M400.2 358.9L414.1 360.4" stroke-width="1.56"/>
<path d="M403.2 370.8L409.9 371.1L408.7 374.5L404.7 374.1Z" fill="#141414" stroke="none"/>
<path d="M446.8 401.3L450.8 396.1L456.7 395.4L459.0 399.1L459.3 409.5L455.2 413.9L450.0 413.2L446.8 408.0Z" fill="#fff" stroke-width="1.95"/>
<path d="M450.8 396.1L451.2 413.2M456.7 395.4L456.0 413.6" stroke-width="1.56"/>
<ellipse cx="449.3" cy="404.7" rx="1.5" ry="3.3" fill="#fff" stroke-width="1.43"/>
<path d="M459.0 403.5L466.4 403.8L468.2 407.2L466.4 411.0L459.3 410.7Z" fill="#141414" stroke="none"/>
<path d="M461.2 403.5L461.2 410.7M463.7 403.8L463.7 411.0" stroke-width="1.56" stroke="#fff"/>
<ellipse cx="475.3" cy="409.5" rx="4.9" ry="6.7" fill="#fff" stroke-width="2.21" transform="rotate(-10 475.3 409.5)"/>
<ellipse cx="475.3" cy="409.9" rx="1.6" ry="3.7" fill="#fff" stroke-width="1.82" transform="rotate(-10 475.3 409.9)"/>
<path d="M320.5 345.3L327.2 348.0L333.4 343.8L335.2 350.9L330.1 354.5L323.9 353.0Z" fill="#fff" stroke-width="1.82"/>
<path d="M322.4 347.5L327.5 349.4L332.5 346.2L333.4 350.3L329.6 353.0L324.8 351.8Z" fill="#141414" stroke="none"/>
<path d="M325.7 349.1L326.9 352.1M329.0 348.8L330.1 351.8" stroke-width="1.56" stroke="#fff"/>
<path d="M330.4 354.2L334.9 351.2L337.0 356.3Z" fill="#fff" stroke-width="1.56"/>
<ellipse cx="323.2" cy="341.6" rx="4.0" ry="4.5" fill="#fff" stroke-width="1.95"/>
<path d="M330.9 370.6L339.8 372.0L352.5 363.4L349.2 377.2L334.6 384.8Q337.3 380.2 336.8 376.5Q336.1 371.3 330.9 370.6Z" fill="#fff" stroke-width="1.82"/>
<path d="M339.8 372.0L341.3 381.0" stroke-width="1.43"/>
<path d="M335.4 364.6L342.8 355.7L351.0 357.9L352.5 363.4L339.8 372.0Z" fill="#fff" stroke-width="1.95"/>
<ellipse cx="342.3" cy="360.4" rx="1.6" ry="2.1" fill="#141414" stroke-width="1.3"/>
<ellipse cx="338.8" cy="367.3" rx="1.3" ry="1.6" fill="#141414" stroke-width="1.3"/>
<path d="M325.4 377.7Q325.7 371.3 330.9 370.6Q336.4 371.3 336.8 376.8Q337.0 383.2 332.4 384.8Q326.4 385.1 325.4 377.7Z" fill="#fff" stroke-width="1.95"/>
<path d="M703.0 267.6Q704.2 265.4 706.7 265.9L708.7 266.7L708.7 271.7L705.4 272.1Q702.7 270.9 703.0 267.6Z" fill="#fff" stroke-width="1.69"/>
<path d="M708.1 266.4L711.7 263.7L717.1 264.7L719.4 268.1L718.8 275.1L715.1 277.8L710.4 276.8L707.7 272.6Z" fill="#fff" stroke-width="1.95"/>
<path d="M711.7 263.7L710.4 276.8M717.1 264.7L715.1 277.8" stroke-width="1.56"/>
<path d="M833.5 310.2L838.9 306.5L846.4 306.0L851.9 308.9L852.3 316.1L846.4 318.6L844.7 322.3L837.2 323.6L833.5 321.1Z" fill="#fff" stroke-width="1.95"/>
<path d="M833.5 310.2L839.7 312.2L846.4 308.9L851.9 308.9M839.7 312.2L838.9 323.3M846.4 308.9L846.4 318.6" stroke-width="1.56"/>
<path d="M838.9 307.7L843.9 306.9L844.7 308.9L840.2 310.2Z" fill="#141414" stroke="none"/>
<path d="M934.1 350.1L939.5 344.4L947.4 343.7L952.2 347.5L952.5 357.0L947.4 361.1L938.6 361.5L933.5 357.0Z" fill="#fff" stroke-width="1.95"/>
<path d="M934.1 350.1L940.5 352.6L952.2 348.2M940.5 352.6L939.5 361.5" stroke-width="1.56"/>
<path d="M950.6 343.7L954.4 341.8L957.5 343.7L956.3 347.5L952.2 348.2Z" fill="#fff" stroke-width="1.56"/>
<path d="M976.8 411.7L981.6 407.6L986.9 408.2L990.4 412.7L989.8 422.8L986.0 428.5L979.7 428.5L976.5 422.8Z" fill="#fff" stroke-width="1.95"/>
<path d="M976.8 415.8L990.1 416.5M976.8 420.3L989.8 420.9M981.6 407.6L980.9 428.5M986.9 408.2L986.0 428.5" stroke-width="1.56"/>
<path d="M979.0 424.4L987.9 424.4L986.0 429.1L980.3 429.1Z" fill="#141414" stroke="none"/>
<ellipse cx="982.8" cy="441.1" rx="7.0" ry="3.5" fill="#fff" stroke-width="2.08" transform="rotate(5 982.8 441.1)"/>
<ellipse cx="982.8" cy="441.1" rx="3.8" ry="1.6" fill="#141414" stroke-width="1.3" transform="rotate(5 982.8 441.1)"/>
<path d="M992.3 309.6L994.8 304.2L999.6 303.3L1003.7 307.4L1005.6 313.7L1004.3 318.5L1000.5 320.4L1000.5 325.4L993.6 325.4L993.6 320.0L989.8 317.8L989.2 312.8Z" fill="#fff" stroke-width="1.95"/>
<path d="M989.8 313.7Q997.4 316.9 1005.3 313.4M993.6 320.0L1000.5 320.4M994.8 321.6L999.9 321.6" stroke-width="1.69"/>
<path d="M994.8 304.2L999.9 303.9L999.3 309.0L994.8 309.0Z" fill="#141414" stroke="none"/>
<path d="M991.1 314.7L1004.3 314.7L1003.7 318.5L993.6 319.7Z" fill="#141414" stroke="none"/>
<path d="M987.9 337.4Q988.5 331.7 996.4 331.1Q1005.9 331.7 1007.5 337.4L1005.9 350.1L1000.5 353.9L992.3 353.2L988.5 348.5Z" fill="#fff" stroke-width="1.95"/>
<ellipse cx="997.4" cy="337.4" rx="8.2" ry="4.1" fill="#fff" stroke-width="1.69"/>
<ellipse cx="997.4" cy="338.1" rx="4.4" ry="1.9" fill="#fff" stroke-width="1.43"/>
<path d="M991.7 342.2L992.3 352.6M1002.8 342.2L1001.8 352.6" stroke-width="1.43"/>
<path d="M994.8 353.9L1001.8 362.1L1009.1 365.2L1014.4 374.7L1024.9 380.1L1035.9 384.8M998.6 353.9L1005.9 363.3L1011.3 368.4L1017.6 376.9L1032.8 386.4" stroke-width="3.12"/>
<path d="M1035.3 382.3L1048.6 380.1L1054.9 384.8L1052.4 390.5L1039.1 388.6Z" fill="#fff" stroke-width="1.69"/>
<path d="M1032.2 386.4L1039.1 388.6L1048.0 393.7L1046.1 396.9L1035.9 392.8Z" fill="#141414" stroke-width="1.56"/>
<path d="M1035.3 382.9L1042.3 381.7L1043.9 388.6L1038.5 388.6Z" fill="#141414" stroke="none"/>
<path d="M960.7 214.9L965.4 209.2L971.4 209.9L974.5 214.9L970.8 221.3L964.8 221.9Z" fill="#fff" stroke-width="1.82"/>
<path d="M965.4 209.2L968.8 221.6" stroke-width="1.43"/>
<path d="M93.0 274.0L120.0 290.0Q140.0 302.0 150.0 309.0L186.0 333.8Q193.0 338.8 205.0 344.2L270.0 372.7L334.0 402.0Q356.0 412.5 372.0 416.0Q386.0 418.0 391.0 408.0L397.0 394.0" stroke-width="8.82" stroke-linecap="butt"/>
<path d="M93.0 274.0L120.0 290.0Q140.0 302.0 150.0 309.0L186.0 333.8Q193.0 338.8 205.0 344.2L270.0 372.7L334.0 402.0Q356.0 412.5 372.0 416.0Q386.0 418.0 391.0 408.0L397.0 394.0" stroke-width="5.18" stroke="#fff" stroke-linecap="butt"/>
<path d="M607.0 230.3Q588.0 227.0 577.6 222.8Q565.0 218.0 562.0 212.5Q559.5 206.0 558.1 198.0Q556.0 186.0 551.6 179.8Q546.5 174.0 538.6 169.4Q529.0 163.5 529.5 156.4Q530.0 147.5 534.7 141.0Q538.0 137.0 541.0 134.5L604.0 78.0Q609.0 73.5 617.0 71.5L662.0 58.0Q668.0 56.5 674.0 58.5L712.0 73.5Q718.0 76.0 726.0 76.0L772.0 77.0Q790.0 78.0 802.0 87.0Q811.0 94.0 809.0 102.0L806.0 112.0Q800.0 122.0 798.0 128.0Q797.5 137.0 806.0 135.5L822.0 128.5" stroke-width="6.89" stroke-linecap="butt"/>
<path d="M607.0 230.3Q588.0 227.0 577.6 222.8Q565.0 218.0 562.0 212.5Q559.5 206.0 558.1 198.0Q556.0 186.0 551.6 179.8Q546.5 174.0 538.6 169.4Q529.0 163.5 529.5 156.4Q530.0 147.5 534.7 141.0Q538.0 137.0 541.0 134.5L604.0 78.0Q609.0 73.5 617.0 71.5L662.0 58.0Q668.0 56.5 674.0 58.5L712.0 73.5Q718.0 76.0 726.0 76.0L772.0 77.0Q790.0 78.0 802.0 87.0Q811.0 94.0 809.0 102.0L806.0 112.0Q800.0 122.0 798.0 128.0Q797.5 137.0 806.0 135.5L822.0 128.5" stroke-width="3.51" stroke="#fff" stroke-linecap="butt"/>
<path d="M720.5 270.5L834.0 312.0" stroke-width="6.34" stroke-linecap="butt"/>
<path d="M720.5 270.5L834.0 312.0" stroke-width="2.96" stroke="#fff" stroke-linecap="butt"/>
<path d="M851.0 316.8Q858.0 320.0 861.8 323.8Q866.0 328.5 870.2 335.2Q874.0 340.5 878.5 343.5Q888.0 349.5 900.3 351.0Q910.0 351.0 920.4 347.7Q928.0 346.3 936.0 350.5" stroke-width="6.34" stroke-linecap="butt"/>
<path d="M851.0 316.8Q858.0 320.0 861.8 323.8Q866.0 328.5 870.2 335.2Q874.0 340.5 878.5 343.5Q888.0 349.5 900.3 351.0Q910.0 351.0 920.4 347.7Q928.0 346.3 936.0 350.5" stroke-width="2.96" stroke="#fff" stroke-linecap="butt"/>
<path d="M952.0 354.4L970.6 362.0Q978.0 365.0 981.5 369.5Q985.0 375.0 985.0 386.0L983.6 408.0" stroke-width="6.34" stroke-linecap="butt"/>
<path d="M952.0 354.4L970.6 362.0Q978.0 365.0 981.5 369.5Q985.0 375.0 985.0 386.0L983.6 408.0" stroke-width="2.96" stroke="#fff" stroke-linecap="butt"/>
<path d="M862.7 211.1L897.8 221.5Q905.5 224.0 903.8 227.5Q902.0 230.3 896.0 231.8Q890.5 233.8 894.7 237.9Q898.0 240.5 916.0 244.1Q926.0 245.0 936.9 238.4Q950.0 231.0 962.0 218.0" stroke-width="4.26" stroke-linecap="butt"/>
<path d="M862.7 211.1L897.8 221.5Q905.5 224.0 903.8 227.5Q902.0 230.3 896.0 231.8Q890.5 233.8 894.7 237.9Q898.0 240.5 916.0 244.1Q926.0 245.0 936.9 238.4Q950.0 231.0 962.0 218.0" stroke-width="1.14" stroke="#fff" stroke-linecap="butt"/>
<path d="M858.4 217.0Q862.0 206.0 875.0 200.0" stroke-width="1.3"/>
<path d="M995.0 190.0Q1000.0 182.0 1008.0 180.5L1030.0 180.0Q1036.0 180.0 1040.0 183.0" stroke-width="3.93" stroke-linecap="butt"/>
<path d="M995.0 190.0Q1000.0 182.0 1008.0 180.5L1030.0 180.0Q1036.0 180.0 1040.0 183.0" stroke-width="1.07" stroke="#fff" stroke-linecap="butt"/>
<path d="M1046.0 190.0Q1046.0 198.0 1051.0 204.0Q1058.0 211.0 1057.5 220.0L1055.7 231.0" stroke-width="3.93" stroke-linecap="butt"/>
<path d="M1046.0 190.0Q1046.0 198.0 1051.0 204.0Q1058.0 211.0 1057.5 220.0L1055.7 231.0" stroke-width="1.07" stroke="#fff" stroke-linecap="butt"/>
<path d="M458.0 491.0L470.0 492.3Q484.0 492.0 492.0 485.5Q498.0 480.0 501.5 473.0L517.5 444.5Q522.0 437.0 534.2 434.5L564.3 427.0Q574.0 425.0 582.0 429.0" stroke-width="7.39" stroke-linecap="butt"/>
<path d="M458.0 491.0L470.0 492.3Q484.0 492.0 492.0 485.5Q498.0 480.0 501.5 473.0L517.5 444.5Q522.0 437.0 534.2 434.5L564.3 427.0Q574.0 425.0 582.0 429.0" stroke-width="4.01" stroke="#fff" stroke-linecap="butt"/>
<path d="M325.4 125.2L345.5 125.2" stroke-width="1.62"/>
<path d="M315.4 158.0L343.8 158.0" stroke-width="1.62"/>
<path d="M413.4 178.7L413.4 212.2" stroke-width="1.62"/>
<path d="M315.4 212.8L340.5 212.8" stroke-width="1.62"/>
<path d="M465.0 223.5L465.0 245.2" stroke-width="1.62"/>
<path d="M554.3 240.2L554.3 252.0" stroke-width="1.62"/>
<path d="M503.1 305.4L503.1 320.5" stroke-width="1.62"/>
<path d="M341.1 333.4L341.1 360.0" stroke-width="1.62"/>
<path d="M296.0 341.7L317.7 341.7" stroke-width="1.62"/>
<path d="M553.5 32.4L572.0 32.4" stroke-width="1.62"/>
<path d="M551.8 61.2L568.6 61.2" stroke-width="1.62"/>
<path d="M551.8 83.6L568.6 83.6" stroke-width="1.62"/>
<path d="M610.4 38.5L610.4 46.8" stroke-width="1.62"/>
<path d="M672.2 20.7L684.0 20.7" stroke-width="1.62"/>
<path d="M725.8 16.7L750.8 16.7" stroke-width="1.62"/>
<path d="M806.0 55.2L806.0 83.6" stroke-width="1.62"/>
<path d="M859.5 72.0L859.5 50.2L642.0 131.8L640.5 185.0" stroke-width="1.62"/>
<path d="M640.3 201.7L640.3 237.0" stroke-width="1.62"/>
<path d="M858.5 92.0L858.5 107.0" stroke-width="1.62"/>
<path d="M700.7 128.8L709.0 128.8" stroke-width="1.62"/>
<path d="M694.0 162.9L707.4 162.9" stroke-width="1.62"/>
<path d="M851.7 143.8L851.7 152.2" stroke-width="1.62"/>
<path d="M852.5 169.5L852.5 174.4L810.2 190.0L810.2 156.2" stroke-width="1.62"/>
<path d="M832.0 183.3L832.0 195.0" stroke-width="1.62"/>
<path d="M873.0 91.0L873.0 100.3" stroke-width="1.62"/>
<path d="M879.8 91.0L879.8 105.3" stroke-width="1.3" stroke-dasharray="3 1" stroke-linecap="butt"/>
<path d="M872.4 138.8L872.4 158.9" stroke-width="1.62"/>
<path d="M1064.0 125.4L1064.0 132.0" stroke-width="1.62"/>
<path d="M886.9 41.7Q878.0 51.0 874.0 62.0L872.6 69.5" stroke-width="1.3" stroke-dasharray="13 2" stroke-linecap="butt"/>
<path d="M878.5 53.4L886.0 51.0" stroke-width="1.3"/>
<path d="M1012.2 140.5L1097.5 162.2" stroke-width="1.62"/>
<path d="M890.2 198.5L890.2 217.6" stroke-width="1.62"/>
<path d="M930.3 189.5L930.3 203.5" stroke-width="1.62"/>
<path d="M796.5 231.0L835.0 229.6" stroke-width="1.62"/>
<path d="M824.3 258.7L846.7 258.7" stroke-width="1.62"/>
<path d="M978.8 186.8L978.8 200.2" stroke-width="1.62"/>
<path d="M1082.5 173.4L1082.5 195.2" stroke-width="1.62"/>
<path d="M1060.7 250.4L1072.4 250.4" stroke-width="1.62"/>
<path d="M1074.1 268.8L1074.1 277.0" stroke-width="1.62"/>
<path d="M1097.5 160.7L978.8 158.4L958.7 176.8L960.4 196.9L1029.0 268.8L1095.9 268.8" stroke-width="1.62" stroke-dasharray="22 3 4 3" stroke-linecap="butt"/>
<path d="M1097.5 160.7L1095.9 268.8" stroke-width="1.62" stroke-dasharray="30 3 3 3" stroke-linecap="butt"/>
<path d="M774.8 325.3L786.0 325.3" stroke-width="1.62"/>
<path d="M1003.0 320.0L1023.3 320.0" stroke-width="1.62"/>
<path d="M1037.5 320.0L1062.8 320.0L1062.8 438.0Q1062.8 441.5 1060.0 441.5L1046.5 441.8" stroke-width="1.62"/>
<path d="M1006.0 347.0L1024.9 347.0" stroke-width="1.62"/>
<path d="M1062.8 370.6L1077.0 370.6" stroke-width="1.62"/>
<path d="M988.5 408.6L1062.8 408.6" stroke-width="1.62"/>
<path d="M990.0 441.8L1032.8 441.8" stroke-width="1.62"/>
<path d="M758.4 346.0L983.8 454.6L983.8 445.0" stroke-width="1.62"/>
<path d="M739.0 361.0L716.0 350.6L715.5 488.4L610.2 443.3" stroke-width="1.62"/>
<path d="M648.6 397.5L672.0 390.4" stroke-width="1.62"/>
<path d="M584.0 395.0L687.0 428.2L648.6 403.0" stroke-width="1.62"/>
<path d="M600.8 448.3L600.8 453.3" stroke-width="1.62"/>
<path d="M600.1 467.7L600.1 473.4L434.8 527.4Q432.0 527.8 431.9 525.0L431.9 519.4" stroke-width="1.62"/>
<path d="M452.9 497.0L452.9 521.3" stroke-width="1.62"/>
<path d="M539.9 493.0L539.9 505.7" stroke-width="1.62"/>
<path d="M737.3 484.4L755.7 484.4" stroke-width="1.62"/>
<path d="M799.1 486.1L815.9 486.1" stroke-width="1.62"/>
<path d="M774.0 446.6L798.1 446.6L798.1 525.2L787.4 525.9" stroke-width="1.62"/>
<path d="M762.3 505.2L798.1 506.8" stroke-width="1.62"/>
<path d="M764.0 526.9L774.0 526.9" stroke-width="1.62"/>
<path d="M407.1 381.0L407.1 397.6" stroke-width="1.62"/>
<path d="M407.1 433.4L407.1 446.0L475.7 463.7L475.7 457.0" stroke-width="1.62"/>
<path d="M475.6 417.0L475.6 423.6" stroke-width="1.62"/>
<path d="M450.8 414.0L450.8 465.0" stroke-width="1.62"/>
<path d="M432.2 497.0L432.2 503.5" stroke-width="1.62"/>
<path d="M354.3 476.5L406.4 475.8L406.4 489.1L428.7 489.1" stroke-width="1.62"/>
<path d="M55.8 271.8L55.8 282.3" stroke-width="1.62"/>
<path d="M54.0 297.0L54.0 306.0L161.7 346.2L161.7 323.4" stroke-width="1.62"/>
<path d="M106.3 326.8L106.3 340.0" stroke-width="1.62"/>
</g>
<g stroke="#141414" stroke-width="0.6" fill="#141414" style="opacity:.999">
<text x="60.9" y="498.4" font-size="17.5" font-weight="bold" letter-spacing="0.8" stroke-width="1.0" transform="rotate(-22 60.9 498.4)">FR.</text>
<text x="347.2" y="131.2" font-size="16.3">12</text>
<text x="345.8" y="166.4" font-size="16.3">14</text>
<text x="404.7" y="177.1" font-size="16.3">15</text>
<text x="342.1" y="218.9" font-size="16.3">33</text>
<text x="528.4" y="38.8" font-size="16.3">38</text>
<text x="530.8" y="66.9" font-size="16.3">23</text>
<text x="529.4" y="91.0" font-size="16.3">30</text>
<text x="601.3" y="61.2" font-size="16.3">31</text>
<text x="685.6" y="26.8" font-size="16.3">24</text>
<text x="716.7" y="20.9" font-size="16.3">1</text>
<text x="797.7" y="51.8" font-size="16.3">18</text>
<text x="854.5" y="88.6" font-size="16.3">6</text>
<text x="677.9" y="137.1" font-size="16.3">35</text>
<text x="672.2" y="169.6" font-size="16.3">16</text>
<text x="847.8" y="163.9" font-size="16.3">8</text>
<text x="872.4" y="86.3" font-size="16.3">28</text>
<text x="862.4" y="175.6" font-size="16.3">27</text>
<text x="1059.7" y="147.2" font-size="16.3">29</text>
<text x="827.6" y="211.2" font-size="16.3">9</text>
<text x="881.5" y="196.2" font-size="16.3">22</text>
<text x="921.3" y="186.2" font-size="16.3">26</text>
<text x="774.1" y="228.6" font-size="16.3">35</text>
<text x="774.1" y="246.4" font-size="16.3">36</text>
<text x="804.9" y="265.4" font-size="16.3">17</text>
<text x="973.1" y="183.5" font-size="16.3">6</text>
<text x="1076.5" y="206.2" font-size="16.3">3</text>
<text x="1073.1" y="255.4" font-size="16.3">6</text>
<text x="1065.1" y="289.2" font-size="16.3">21</text>
<text x="790.8" y="332.8" font-size="16.3">37</text>
<text x="1025.0" y="325.1" font-size="16.3">3</text>
<text x="1026.3" y="352.5" font-size="16.3">29</text>
<text x="1077.5" y="377.0" font-size="16.3">20</text>
<text x="1034.0" y="447.2" font-size="16.3">6</text>
<text x="674.7" y="395.8" font-size="16.3">39</text>
<text x="726.2" y="489.4" font-size="16.3">5</text>
<text x="819.9" y="492.4" font-size="16.3">2</text>
<text x="775.1" y="533.6" font-size="16.3">4</text>
<text x="403.8" y="413.6" font-size="16.3">7</text>
<text x="397.1" y="430.3" font-size="16.3">34</text>
<text x="471.7" y="437.7" font-size="16.3">7</text>
<text x="465.7" y="454.7" font-size="16.3">34</text>
<text x="441.2" y="478.8" font-size="16.3">10</text>
<text x="427.2" y="517.3" font-size="16.3">6</text>
<text x="532.5" y="521.3" font-size="16.3">19</text>
<text x="596.1" y="465.4" font-size="16.3">6</text>
<text x="454.9" y="258.6" font-size="16.3">35</text>
<text x="543.6" y="235.9" font-size="16.3">25</text>
<text x="493.1" y="333.8" font-size="16.3">32</text>
<text x="331.9" y="332.2" font-size="16.3">13</text>
<text x="275.0" y="348.2" font-size="16.3">35</text>
<text x="97.7" y="353.4" font-size="16.3">11</text>
<text x="51.8" y="295.5" font-size="16.3">7</text>
<text x="636.3" y="198.4" font-size="16.3">6</text>
</g>
</svg></body></html>
